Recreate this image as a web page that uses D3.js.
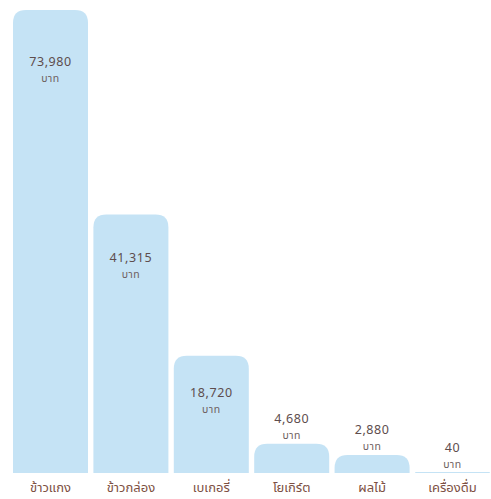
<!DOCTYPE html>
<html>
<head>
<meta charset="utf-8">
<script src="https://cdn.jsdelivr.net/npm/d3@7"></script>
<style>
  body { margin: 0; background: #fff; }
  text { font-family: "Noto Sans Thai", "Noto Sans", "DejaVu Sans", sans-serif; }
</style>
</head>
<body>
<div id="chart"></div>
<script>
// data
var categories = ["ข้าวแกง", "ข้าวกล่อง", "เบเกอรี่", "โยเกิร์ต", "ผลไม้", "เครื่องดื่ม"];
var values = [73980, 41315, 18720, 4680, 2880, 40];
var unit = "บาท";

var width = 491,
    height = 499,
    margin = { top: 10, right: 1, bottom: 26, left: 13 };

var svg = d3.select("#chart")
    .append("svg")
    .attr("width", width)
    .attr("height", height);

var x = d3.scaleBand()
    .domain(categories)
    .range([margin.left, width - margin.right])
    .paddingInner(0.067)
    .paddingOuter(0);

var y = d3.scaleLinear()
    .domain([0, d3.max(values)])
    .range([height - margin.bottom, margin.top]);

var data = categories.map(function (c, i) { return { cat: c, val: values[i] }; });

// rounded top corners, square bottom
function barPath(d) {
    var x0 = x(d.cat), w = x.bandwidth();
    var y1 = y(0);
    var h = Math.max(1, y1 - y(d.val));
    var y0 = y1 - h;
    var r = Math.min(13, h, w / 2);
    return "M" + x0 + "," + y1 +
        "V" + (y0 + r) +
        "Q" + x0 + "," + y0 + " " + (x0 + r) + "," + y0 +
        "H" + (x0 + w - r) +
        "Q" + (x0 + w) + "," + y0 + " " + (x0 + w) + "," + (y0 + r) +
        "V" + y1 + "Z";
}

svg.append("g")
    .selectAll("path")
    .data(data)
    .enter().append("path")
    .attr("d", barPath)
    .attr("fill", "#c5e3f5");

var fmt = d3.format(",");

// where the value label goes: inside tall bars, above short ones
function labelY(d) {
    var h = y(0) - y(d.val);
    if (h > 60) return y(d.val) + 32 + h * 0.043;
    return y(d.val) - 25;
}

var labels = svg.append("g")
    .selectAll("g")
    .data(data)
    .enter().append("g")
    .attr("transform", function (d) {
        return "translate(" + (x(d.cat) + x.bandwidth() / 2) + "," + labelY(d) + ")";
    });

labels.append("text")
    .attr("text-anchor", "middle")
    .attr("dy", "0.35em")
    .attr("font-size", 12.5)
    .attr("fill", "#5e4d4d")
    .attr("letter-spacing", "0.6px")
    .text(function (d) { return fmt(d.val); });

labels.append("text")
    .attr("text-anchor", "middle")
    .attr("y", 17)
    .attr("dy", "0.3em")
    .attr("font-size", 10.5)
    .attr("fill", "#6e6060")
    .attr("letter-spacing", "0.5px")
    .text(unit);

// category axis
var axis = svg.append("g")
    .attr("transform", "translate(0," + y(0) + ")")
    .call(d3.axisBottom(x).tickSize(0).tickPadding(10));

axis.select(".domain").remove();
axis.selectAll("text")
    .attr("font-size", 13)
    .attr("fill", "#7d4f42")
    .style("font-family", "\"Noto Sans Thai\", \"Noto Sans\", sans-serif");
</script>
</body>
</html>
